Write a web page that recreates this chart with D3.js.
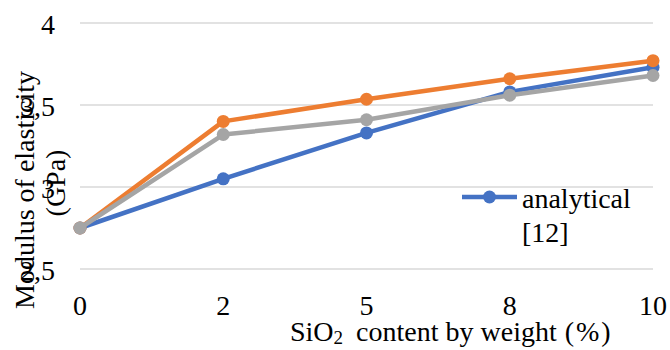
<!DOCTYPE html>
<html>
<head>
<meta charset="utf-8">
<script src="https://cdn.jsdelivr.net/npm/d3@7"></script>
<style>
  html, body { margin: 0; padding: 0; background: #fff; }
  svg { display: block; }
</style>
</head>
<body>
<svg id="chart" width="670" height="350"></svg>
<script>
const categories = ["0", "2", "5", "8", "10"];
const analytical = [2.75, 3.05, 3.33, 3.58, 3.73];
const seriesOrange = [2.75, 3.40, 3.535, 3.66, 3.77];
const seriesGray = [2.75, 3.32, 3.41, 3.56, 3.68];
const yTicks = [2.5, 3, 3.5, 4];
const yTickLabels = ["2,5", "3", "3,5", "4"];
const legendLabels = ["analytical", "[12]"];

const series = [
  { name: "analytical [12]", values: analytical, color: "#4472C4" },
  { name: "series 2", values: seriesOrange, color: "#ED7D31" },
  { name: "series 3", values: seriesGray, color: "#A5A5A5" }
];

const FONT = "Liberation Serif";
const svg = d3.select("#chart");
const x = d3.scalePoint().domain(categories).range([80, 653]).padding(0);
const y = d3.scaleLinear().domain([2.5, 4]).range([269, 23]);

// gridlines
svg.append("g").selectAll("line").data(yTicks).join("line")
  .attr("x1", 80).attr("x2", 653)
  .attr("y1", d => y(d)).attr("y2", d => y(d))
  .attr("stroke", "#D9D9D9").attr("stroke-width", 1.5);

// y tick labels
svg.append("g").selectAll("text").data(yTicks).join("text")
  .attr("x", 55).attr("y", d => y(d)).attr("dy", "0.38em")
  .attr("text-anchor", "end").attr("font-size", 28).attr("font-family", FONT)
  .text((d, i) => yTickLabels[i]);

// x tick labels
svg.append("g").selectAll("text").data(categories).join("text")
  .attr("x", d => x(d)).attr("y", 315)
  .attr("text-anchor", "middle").attr("font-size", 28).attr("font-family", FONT)
  .text(d => d);

// y axis title
const yt = svg.append("text")
  .attr("transform", "translate(34,191) rotate(-90)")
  .attr("text-anchor", "middle").attr("font-size", 28).attr("font-family", FONT);
yt.append("tspan").attr("x", 1).attr("dy", 0).text("Modulus of elasticity");
yt.append("tspan").attr("x", 8).attr("dy", 31).text("(GPa)");

// x axis title
const xt = svg.append("text")
  .attr("x", 290).attr("y", 341)
  .attr("text-anchor", "start").attr("font-size", 28).attr("font-family", FONT);
xt.append("tspan").text("SiO");
xt.append("tspan").attr("font-size", 19).attr("dy", 3).text("2");
xt.append("tspan").attr("dy", -3).attr("dx", 6).text(" content by weight");
xt.append("tspan").attr("dx", 8).text("(");
xt.append("tspan").attr("dx", 2).text("%");
xt.append("tspan").attr("dx", 2).text(")");

// lines & markers
const line = d3.line().x((d, i) => x(categories[i])).y(d => y(d));
series.forEach(s => {
  const g = svg.append("g");
  g.append("path").datum(s.values).attr("d", line)
    .attr("fill", "none").attr("stroke", s.color)
    .attr("stroke-width", 4.5).attr("stroke-linejoin", "round");
  g.selectAll("circle").data(s.values).join("circle")
    .attr("cx", (d, i) => x(categories[i])).attr("cy", d => y(d))
    .attr("r", 6.5).attr("fill", s.color);
});

// legend (only first entry visible)
const lg = svg.append("g");
lg.append("line").attr("x1", 462).attr("x2", 517).attr("y1", 197).attr("y2", 197)
  .attr("stroke", series[0].color).attr("stroke-width", 4.5);
lg.append("circle").attr("cx", 489.5).attr("cy", 197).attr("r", 6.5).attr("fill", series[0].color);
lg.selectAll("text").data(legendLabels).join("text")
  .attr("x", 522).attr("y", (d, i) => 208 + i * 34)
  .attr("font-size", 28).attr("font-family", FONT).text(d => d);
</script>
</body>
</html>
